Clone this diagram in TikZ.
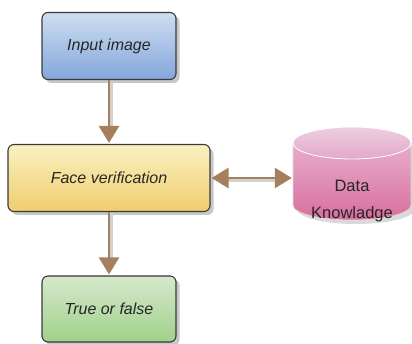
\documentclass[tikz,border=0pt]{standalone}
\usepackage{fontspec}
\setmainfont{Liberation Sans}
\usetikzlibrary{arrows.meta,shadows}
\definecolor{linkbrown}{HTML}{A6805E}
\definecolor{boxedge}{HTML}{3A3A3A}
\definecolor{txt}{HTML}{262626}
\tikzset{
  stepbox/.style={draw=boxedge, line width=1.1pt, rounded corners=6pt,
    font=\fontsize{16}{19}\selectfont\itshape, text=txt,
    drop shadow={shadow xshift=3.5pt, shadow yshift=-3.5pt, opacity=0.22, fill=black}},
  bluebox/.style={stepbox, top color={rgb,255:red,206;green,221;blue,241}, bottom color={rgb,255:red,132;green,166;blue,219}},
  yellowbox/.style={stepbox, top color={rgb,255:red,250;green,240;blue,192}, bottom color={rgb,255:red,240;green,206;blue,112}},
  greenbox/.style={stepbox, top color={rgb,255:red,214;green,232;blue,204}, bottom color={rgb,255:red,160;green,209;blue,138}},
  tip/.tip={Triangle[width=20pt,length=17pt]},
  link/.style={draw=linkbrown, line width=2.8pt, -tip, shorten >=1pt},
  linkshadow/.style={draw=black!18, line width=2.6pt, shorten >=14pt, shorten <=1pt}
}
\begin{document}
\begin{tikzpicture}[x=1pt,y=1pt]
  \useasboundingbox (0,0) rectangle (412,-344);

  % process boxes
  \node[bluebox, minimum width=134pt, minimum height=67pt] (in) at (109,-46) {Input image};
  \node[yellowbox, minimum width=202pt, minimum height=67pt] (face) at (109,-178) {Face verification};
  \node[greenbox, minimum width=134pt, minimum height=66pt] (out) at (109,-309) {True or false};

  % knowledge store drawn as a cylinder
  \node[minimum width=118pt, minimum height=92pt, inner sep=0pt] (db) at (352,-175) {};
  \fill[black!15] (297,-147) -- (297,-209) arc[start angle=180,end angle=360,x radius=59pt,y radius=15pt]
     -- (415,-147) -- cycle;
  \shade[top color={rgb,255:red,234;green,186;blue,212}, bottom color={rgb,255:red,216;green,110;blue,158}]
     (293,-143) -- (293,-205) arc[start angle=180,end angle=360,x radius=59pt,y radius=15pt]
     -- (411,-143) arc[start angle=0,end angle=180,x radius=59pt,y radius=15pt] -- cycle;
  \draw[white!85!black, line width=0.6pt]
     (293,-143) -- (293,-205) arc[start angle=180,end angle=360,x radius=59pt,y radius=15pt] -- (411,-143);
  \shade[top color={rgb,255:red,238;green,206;blue,224}, bottom color={rgb,255:red,226;green,168;blue,200},
     draw=white, line width=0.8pt] (352,-143) ellipse[x radius=59pt, y radius=16pt];
  \node[font=\fontsize{16.5}{27}\selectfont, text=txt, align=center] (dbtext) at (352,-201) {Data\\Knowladge};

  % connectors
  \draw[linkshadow] ([xshift=2.5pt]in.south) -- ([xshift=2.5pt]face.north);
  \draw[link] (in.south) -- (face.north);
  \draw[linkshadow] ([xshift=2.5pt]face.south) -- ([xshift=2.5pt]out.north);
  \draw[link] (face.south) -- (out.north);
  \draw[draw=black!18, line width=2.6pt, shorten >=14pt, shorten <=14pt]
     ([yshift=-2.5pt]face.east) -- ([yshift=-2.5pt]face.east -| db.west);
  \draw[link, tip-tip, shorten <=1pt]
     (face.east) -- (face.east -| db.west);
\end{tikzpicture}
\end{document}
